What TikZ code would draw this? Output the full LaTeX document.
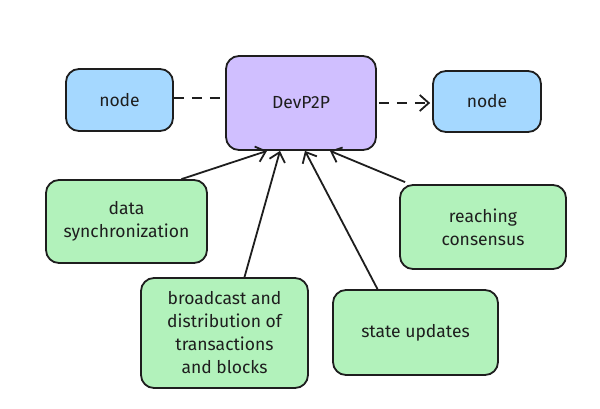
\documentclass[tikz,border=0pt]{standalone}
\usepackage{fontspec}
\setmainfont{Fira Sans}
\usetikzlibrary{arrows.meta}
\definecolor{ink}{HTML}{1E1E1E}
\definecolor{bluefill}{HTML}{A5D8FF}
\definecolor{violetfill}{HTML}{D0BFFF}
\definecolor{greenfill}{HTML}{B2F2BB}
\tikzset{
  box/.style={draw=ink, line width=1.8pt, rounded corners=13pt, inner sep=2pt,
    align=center, text=ink, font=\fontsize{17.5}{23}\selectfont},
  bluebox/.style={box, fill=bluefill},
  violetbox/.style={box, fill=violetfill},
  greenbox/.style={box, fill=greenfill},
  link/.style={draw=ink, line width=1.8pt},
  dashlink/.style={link, dash pattern=on 10pt off 8pt},
  tip/.style={-{Straight Barb[length=9pt,width=16pt,line width=1.8pt]}}
}
\begin{document}
\begin{tikzpicture}[x=1pt,y=-1pt]
\useasboundingbox[fill=white] (0,0) rectangle (600,408);
\node[bluebox, minimum width=107pt, minimum height=62pt] (nl) at (119.5,100) {node};
\node[violetbox, minimum width=150pt, minimum height=94pt] (dev) at (301,103) {DevP2P};
\node[bluebox, minimum width=108pt, minimum height=61pt] (nr) at (487,101.5) {node};
\node[greenbox, minimum width=161pt, minimum height=83pt] (data) at (126.5,221.5) {data\\synchronization};
\node[greenbox, minimum width=166pt, minimum height=84pt] (cons) at (483,227) {reaching\\consensus};
\node[greenbox, minimum width=167pt, minimum height=110pt] (bcast) at (224.5,333) {broadcast and\\distribution of\\transactions\\and blocks};
\node[greenbox, minimum width=165pt, minimum height=85pt] (state) at (415.5,332.5) {state updates};

\coordinate (ls) at ([yshift=2pt]nl.east);
\coordinate (le) at ([xshift=-4pt]dev.west |- ls);
\coordinate (rs) at ([xshift=2pt]dev.east);
\coordinate (re) at ([xshift=-2pt]nr.west |- rs);
\draw[dashlink] (ls) -- (le);
\draw[dashlink, tip] (rs) -- (re);
\draw[link, tip] ([xshift=55pt]data.north) -- ([xshift=-34pt]dev.south);
\draw[link, tip] ([xshift=20pt]bcast.north) -- ([xshift=-21pt]dev.south);
\draw[link, tip] ([xshift=-38pt]state.north) -- ([xshift=4pt]dev.south);
\draw[link, tip] ([xshift=6pt,yshift=2pt]cons.north west) -- ([xshift=29pt]dev.south);
\end{tikzpicture}
\end{document}
